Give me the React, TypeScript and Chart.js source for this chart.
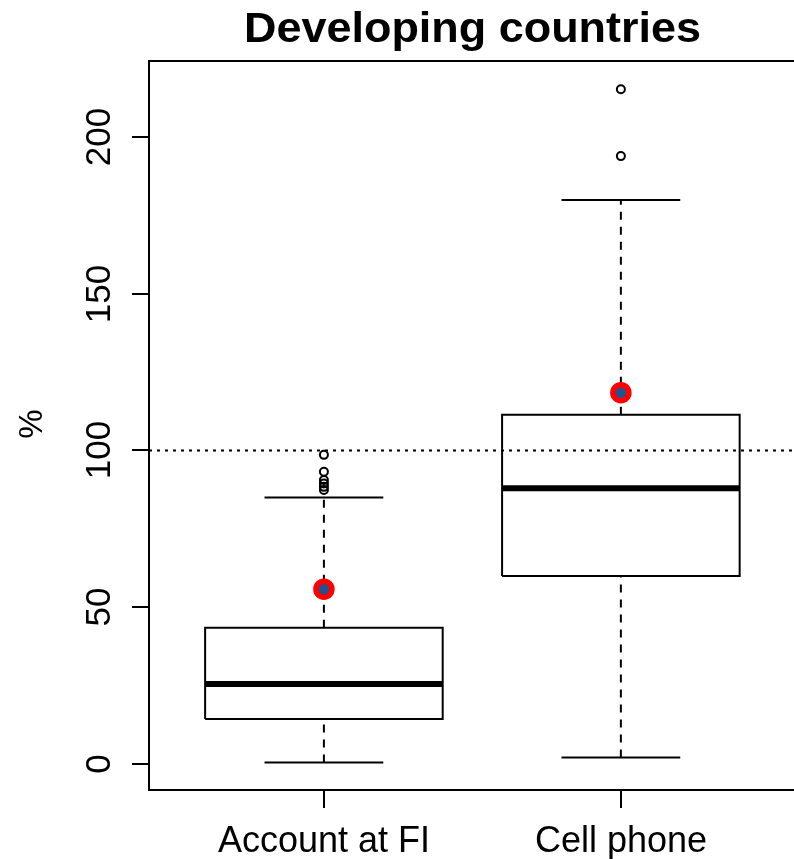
import React, { useEffect, useRef } from "react";
import { Chart, registerables } from "chart.js";

Chart.register(...registerables);

const chartTitle = "Developing countries";
const yAxisTitle = "%";
const categories = ["Account at FI", "Cell phone"];
const lowerWhisker = [0.6, 2.2];
const q1 = [14.4, 60.0];
const median = [25.6, 88.0];
const q3 = [43.5, 111.4];
const upperWhisker = [85.0, 179.8];
const means = [55.8, 118.4];
const outliersAccount = [87.4, 88.4, 89.5, 90.6, 93.2, 98.6];
const outliersCell = [193.8, 215.1];
const referenceValue = 100;
const yTicks = [0, 50, 100, 150, 200];

const X_MIN = 0.411;
const X_MAX = 2.583;
const Y_MIN = -8.19;
const Y_MAX = 224.1;
const BOX_HALF = 0.4;
const CAP_HALF = 0.2;
const FONT = '"Liberation Sans", Arial, sans-serif';

type P = { x: number; y: number };

function seg(points: P[], opts: any, order: number) {
  return {
    type: "scatter" as const,
    data: points,
    showLine: true,
    pointRadius: 0,
    borderColor: "#000",
    borderWidth: 2,
    borderCapStyle: "butt",
    borderJoinStyle: "miter",
    fill: false,
    order,
    ...opts,
  };
}

const framePlugin = {
  id: "rframe",
  afterDraw(chart: any) {
    const { ctx, chartArea: a, scales } = chart;
    const xs = scales.x;
    const ys = scales.y;
    ctx.save();
    ctx.strokeStyle = "#000";
    ctx.lineWidth = 2;
    ctx.lineCap = "butt";
    ctx.beginPath();
    ctx.moveTo(a.right + 3, a.top);
    ctx.lineTo(a.left, a.top);
    ctx.lineTo(a.left, a.bottom);
    ctx.lineTo(a.right + 3, a.bottom);
    ctx.stroke();

    ctx.fillStyle = "#000";
    ctx.font = `35px ${FONT}`;
    yTicks.forEach((v) => {
      const py = Math.round(ys.getPixelForValue(v));
      ctx.beginPath();
      ctx.moveTo(a.left - 17, py);
      ctx.lineTo(a.left, py);
      ctx.stroke();
      ctx.save();
      ctx.translate(110, py);
      ctx.rotate(-Math.PI / 2);
      ctx.textAlign = "center";
      ctx.textBaseline = "alphabetic";
      ctx.fillText(String(v), 0, 0);
      ctx.restore();
    });

    ctx.font = `36px ${FONT}`;
    categories.forEach((c, i) => {
      const px = Math.round(xs.getPixelForValue(i + 1));
      ctx.beginPath();
      ctx.moveTo(px, a.bottom);
      ctx.lineTo(px, a.bottom + 18);
      ctx.stroke();
      ctx.textAlign = "center";
      ctx.textBaseline = "alphabetic";
      ctx.fillText(c, px, 852);
    });

    ctx.save();
    ctx.font = `33px ${FONT}`;
    ctx.translate(42, 424);
    ctx.rotate(-Math.PI / 2);
    ctx.textAlign = "center";
    ctx.fillText(yAxisTitle, 0, 0);
    ctx.restore();

    ctx.save();
    ctx.font = `bold 42px ${FONT}`;
    ctx.textAlign = "center";
    ctx.textBaseline = "alphabetic";
    ctx.translate((a.left + a.right) / 2 + 1, 42);
    ctx.scale(1.07, 1);
    ctx.fillText(chartTitle, 0, 0);
    ctx.restore();
    ctx.restore();
  },
};

export default function App() {
  const ref = useRef<HTMLCanvasElement | null>(null);

  useEffect(() => {
    if (!ref.current) return;
    const datasets: any[] = [];

    datasets.push(
      seg(
        [
          { x: X_MIN, y: referenceValue },
          { x: X_MAX, y: referenceValue },
        ],
        { borderDash: [3, 5] },
        10
      )
    );

    categories.forEach((_, i) => {
      const cx = i + 1;
      datasets.push(
        seg(
          [
            { x: cx, y: lowerWhisker[i] },
            { x: cx, y: q1[i] },
          ],
          { borderDash: [8, 7] },
          8
        )
      );
      datasets.push(
        seg(
          [
            { x: cx, y: q3[i] },
            { x: cx, y: upperWhisker[i] },
          ],
          { borderDash: [8, 7] },
          8
        )
      );
      datasets.push(
        seg(
          [
            { x: cx - CAP_HALF, y: lowerWhisker[i] },
            { x: cx + CAP_HALF, y: lowerWhisker[i] },
          ],
          {},
          7
        )
      );
      datasets.push(
        seg(
          [
            { x: cx - CAP_HALF, y: upperWhisker[i] },
            { x: cx + CAP_HALF, y: upperWhisker[i] },
          ],
          {},
          7
        )
      );
      datasets.push(
        seg(
          [
            { x: cx - BOX_HALF, y: q1[i] },
            { x: cx + BOX_HALF, y: q1[i] },
            { x: cx + BOX_HALF, y: q3[i] },
            { x: cx - BOX_HALF, y: q3[i] },
            { x: cx - BOX_HALF, y: q1[i] },
          ],
          {},
          6
        )
      );
      datasets.push(
        seg(
          [
            { x: cx - BOX_HALF, y: median[i] },
            { x: cx + BOX_HALF, y: median[i] },
          ],
          { borderWidth: 6 },
          5
        )
      );
    });

    const outlierSets = [outliersAccount, outliersCell];
    outlierSets.forEach((arr, i) => {
      datasets.push({
        type: "scatter",
        data: arr.map((v) => ({ x: i + 1, y: v })),
        pointRadius: 4,
        pointBorderWidth: 2,
        pointBorderColor: "#000",
        pointBackgroundColor: "rgba(0,0,0,0)",
        showLine: false,
        order: 2,
      });
    });

    datasets.push({
      type: "scatter",
      data: means.map((v, i) => ({ x: i + 1, y: v })),
      pointRadius: 8,
      pointBorderWidth: 5.5,
      pointBorderColor: "#ff0000",
      pointBackgroundColor: "#24508c",
      showLine: false,
      order: 0,
    });

    const chart = new Chart(ref.current, {
      type: "scatter",
      data: { datasets },
      options: {
        animation: false,
        responsive: false,
        devicePixelRatio: 1,
        events: [],
        layout: { autoPadding: false, padding: { left: 149, top: 61, right: 0, bottom: 69 } },
        plugins: {
          legend: { display: false },
          title: { display: false },
          tooltip: { enabled: false },
        },
        scales: {
          x: { type: "linear", min: X_MIN, max: X_MAX, display: false },
          y: { type: "linear", min: Y_MIN, max: Y_MAX, display: false },
        },
      },
      plugins: [framePlugin],
    });
    return () => chart.destroy();
  }, []);

  return (
    <div style={{ position: "absolute", left: 0, top: 0, width: 794, height: 859, background: "#fff" }}>
      <canvas ref={ref} width={794} height={859} style={{ width: 794, height: 859, display: "block" }} />
    </div>
  );
}
